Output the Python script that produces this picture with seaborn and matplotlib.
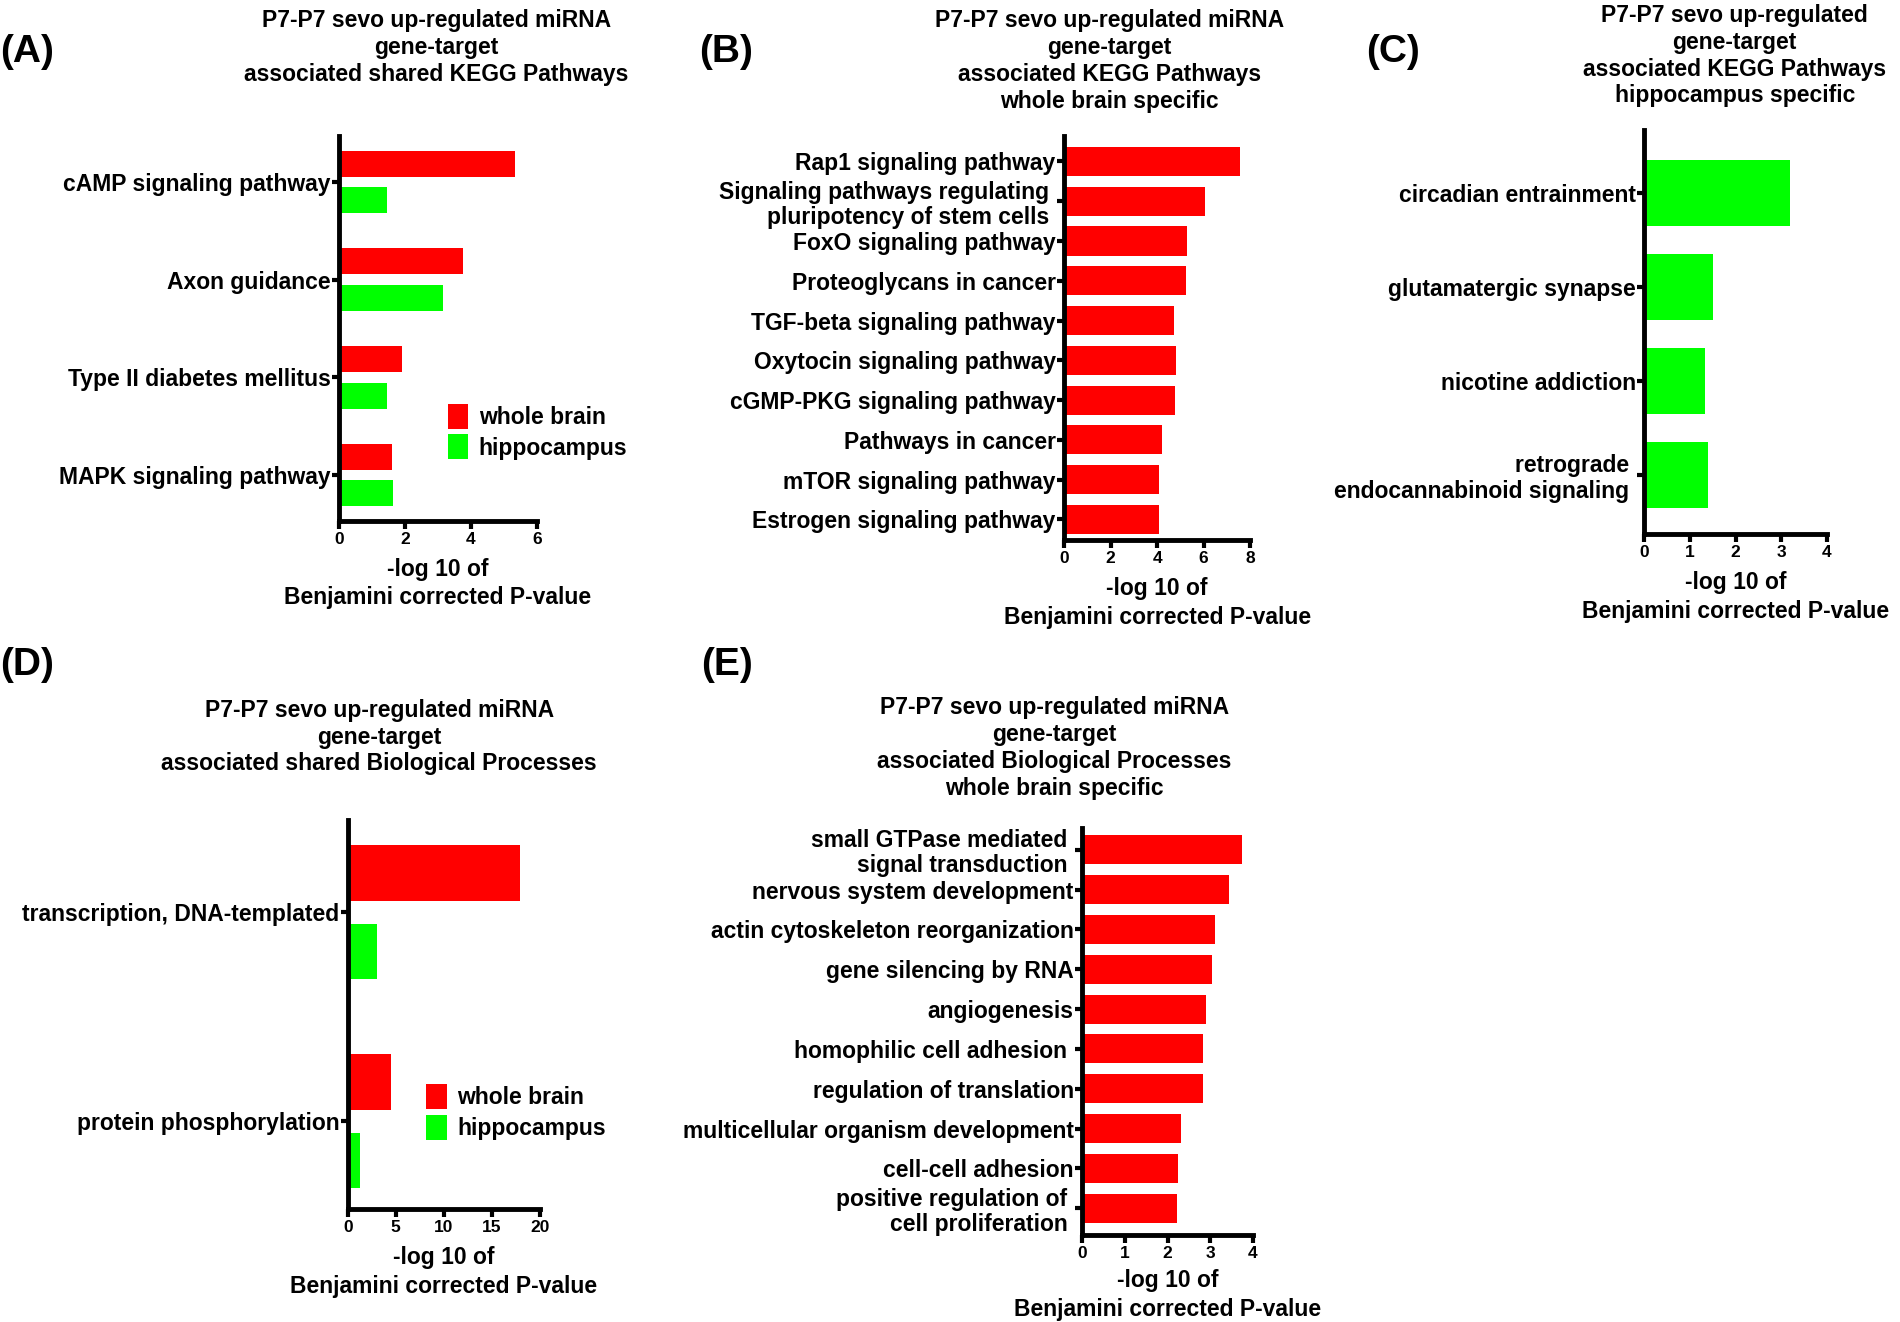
import numpy as np
import pandas as pd
import matplotlib
matplotlib.use('Agg')
import matplotlib.pyplot as plt
import seaborn as sns

RED = '#ff0000'
GREEN = '#00ff00'

# (A) shared KEGG pathways
a_terms = ['cAMP signaling pathway', 'Axon guidance', 'Type II diabetes mellitus', 'MAPK signaling pathway']
a_whole = [5.35, 3.75, 1.9, 1.62]
a_hippo = [1.45, 3.15, 1.47, 1.65]

# (B) whole brain specific KEGG pathways
b_terms = ['Rap1 signaling pathway', 'Signaling pathways regulating \npluripotency of stem cells ',
           'FoxO signaling pathway', 'Proteoglycans in cancer', 'TGF-beta signaling pathway',
           'Oxytocin signaling pathway', 'cGMP-PKG signaling pathway', 'Pathways in cancer',
           'mTOR signaling pathway', 'Estrogen signaling pathway']
b_vals = [7.57, 6.07, 5.3, 5.26, 4.74, 4.8, 4.78, 4.2, 4.1, 4.1]

# (C) hippocampus specific KEGG pathways
c_terms = ['circadian entrainment', 'glutamatergic synapse', 'nicotine addiction',
           'retrograde \nendocannabinoid signaling ']
c_vals = [3.18, 1.51, 1.34, 1.4]

# (D) shared biological processes
d_terms = ['transcription, DNA-templated', 'protein phosphorylation']
d_whole = [18.0, 4.5]
d_hippo = [3.08, 1.32]

# (E) whole brain specific biological processes
e_terms = ['small GTPase mediated \nsignal transduction ', 'nervous system development',
           'actin cytoskeleton reorganization', 'gene silencing by RNA', 'angiogenesis',
           'homophilic cell adhesion ', 'regulation of translation',
           'multicellular organism development', 'cell-cell adhesion',
           'positive regulation of \ncell proliferation ']
e_vals = [3.75, 3.43, 3.11, 3.03, 2.91, 2.82, 2.84, 2.32, 2.25, 2.21]

tissues = ['whole brain', 'hippocampus']
xlab = '-log 10 of\nBenjamini corrected P-value'

sns.set_style('ticks')
plt.rcParams['font.family'] = ['Liberation Sans', 'DejaVu Sans']
plt.rcParams['font.weight'] = 'bold'
for k in ['text.color', 'axes.labelcolor', 'xtick.color', 'ytick.color', 'axes.edgecolor']:
    plt.rcParams[k] = 'black'
FS = 16.5

fig = plt.figure(figsize=(19, 13.22), dpi=100)


def style(ax, xticks, ylim, pad=8):
    ax.set_xlim(xticks[0], xticks[-1])
    ax.set_xticks(xticks)
    ax.set_ylim(*ylim)
    ax.set_ylabel('')
    ax.set_xlabel(xlab, fontsize=FS, fontweight='bold', labelpad=pad, linespacing=1.3)
    sns.despine(ax=ax)
    for s in ['left', 'bottom']:
        ax.spines[s].set_linewidth(3.5)
    ax.tick_params(axis='y', length=5, width=3, labelsize=FS, pad=1)
    ax.tick_params(axis='x', length=6, width=3, labelsize=12.5, pad=2)
    for t in ax.get_xticklabels():
        t.set_fontweight('bold')
    for t in ax.get_yticklabels():
        t.set_fontweight('bold')
        t.set_linespacing(1.12)


def grouped(ax, terms, whole, hippo):
    df = pd.DataFrame({'term': terms * 2,
                       'value': whole + hippo,
                       'tissue': [tissues[0]] * len(terms) + [tissues[1]] * len(terms)})
    sns.barplot(data=df, y='term', x='value', hue='tissue', palette=[RED, GREEN],
                saturation=1, width=0.75, gap=0.29, linewidth=0, ax=ax)


def legend(ax, anchor):
    ax.legend(loc='upper left', bbox_to_anchor=anchor, frameon=False, fontsize=FS,
              handlelength=0.9, handleheight=1.3, handletextpad=0.45, labelspacing=0.25,
              borderpad=0, borderaxespad=0)


# (A)
axA = fig.add_axes([0.1784, 0.606, 0.1042, 0.291])
grouped(axA, a_terms, a_whole, a_hippo)
style(axA, [0, 2, 4, 6], (3.47, -0.47))
legend(axA, (0.55, 0.305))

# (B)
axB = fig.add_axes([0.560, 0.5915, 0.098, 0.3056])
sns.barplot(x=b_vals, y=b_terms, color=RED, saturation=1, width=0.73, linewidth=0, ax=axB)
style(axB, [0, 2, 4, 6, 8], (9.52, -0.64))

# (C)
axC = fig.add_axes([0.8653, 0.596, 0.0963, 0.3056])
sns.barplot(x=c_vals, y=c_terms, color=GREEN, saturation=1, width=0.71, linewidth=0, ax=axC)
style(axC, [0, 1, 2, 3, 4], (3.63, -0.67))

# (D)
axD = fig.add_axes([0.183, 0.0855, 0.101, 0.294])
grouped(axD, d_terms, d_whole, d_hippo)
style(axD, [0, 5, 10, 15, 20], (1.42, -0.44))
legend(axD, (0.41, 0.322))

# (E)
axE = fig.add_axes([0.5695, 0.0658, 0.090, 0.308])
sns.barplot(x=e_vals, y=e_terms, color=RED, saturation=1, width=0.73, linewidth=0, ax=axE)
style(axE, [0, 1, 2, 3, 4], (9.67, -0.55), pad=6)

# titles
titles = [
    (0.2296, 0.964, 'P7-P7 sevo up-regulated miRNA\ngene-target\nassociated shared KEGG Pathways'),
    (0.584, 0.954, 'P7-P7 sevo up-regulated miRNA\ngene-target\nassociated KEGG Pathways\nwhole brain specific'),
    (0.913, 0.958, 'P7-P7 sevo up-regulated\ngene-target\nassociated KEGG Pathways\nhippocampus specific'),
    (0.1996, 0.4425, 'P7-P7 sevo up-regulated miRNA\ngene-target\nassociated shared Biological Processes'),
    (0.555, 0.434, 'P7-P7 sevo up-regulated miRNA\ngene-target\nassociated Biological Processes\nwhole brain specific'),
]
for x, y, t in titles:
    fig.text(x, y, t, ha='center', va='center', fontsize=FS, fontweight='bold', linespacing=1.22)

# panel letters
for x, y, t in [(0.0, 0.961, '(A)'), (0.368, 0.961, '(B)'), (0.719, 0.961, '(C)'),
                (0.0, 0.497, '(D)'), (0.369, 0.497, '(E)')]:
    fig.text(x, y, t, ha='left', va='center', fontsize=28, fontweight='bold')

fig.savefig('out.png', dpi=100)
